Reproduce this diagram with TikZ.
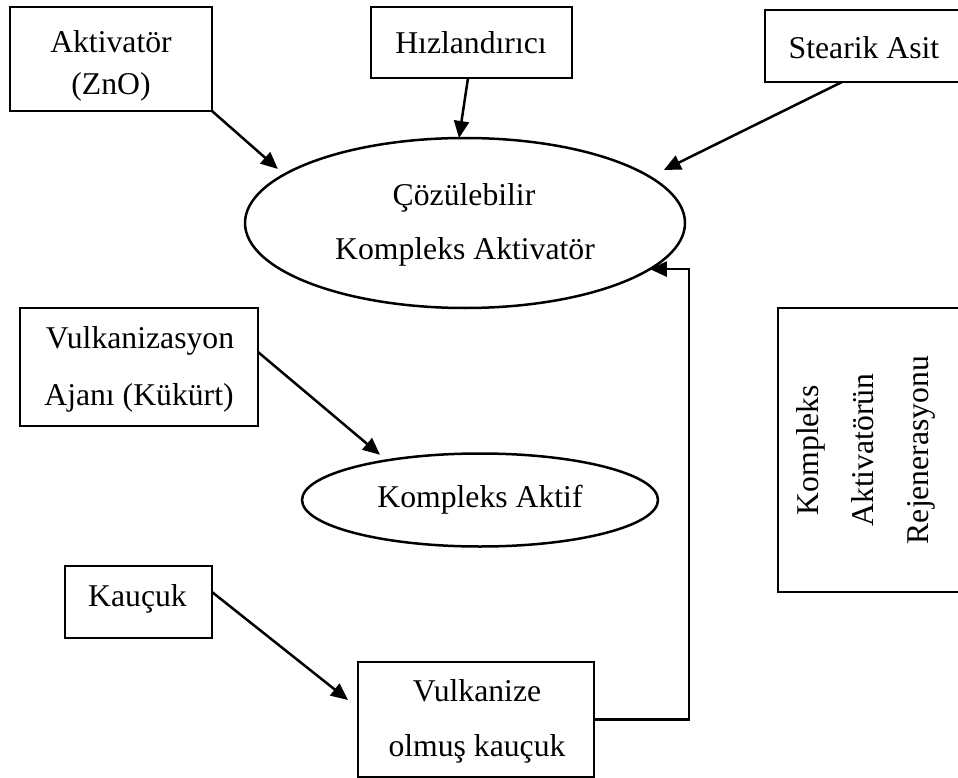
\documentclass[tikz,border=0pt]{standalone}
\usepackage{fontspec}
\setmainfont{Liberation Serif}
\usetikzlibrary{shapes.geometric,arrows.meta}
\begin{document}
\begin{tikzpicture}[x=1pt,y=-1pt,
  box/.style={draw, line width=2.5pt, rectangle, inner sep=0pt, outer sep=0pt},
  oval/.style={draw, line width=2.5pt, ellipse, inner sep=0pt, outer sep=0pt},
  txt/.style={anchor=base, inner sep=0pt, font=\fontsize{31.7}{38}\selectfont},
  arr/.style={line width=2.5pt, -{Triangle[length=17pt,width=15pt]}}]
\useasboundingbox (0,0) rectangle (958,778);
\clip (0,0) rectangle (958,778);
% boxes and ovals
\node (akt) [box, minimum width=202pt, minimum height=104pt] at (111,59) {};
\node (hiz) [box, minimum width=201pt, minimum height=71pt] at (471.5,42.5) {};
\node (ste) [box, minimum width=198pt, minimum height=72pt] at (864,46) {};
\node (cka) [oval, minimum width=440pt, minimum height=170pt] at (465,223) {};
\node (vul) [box, minimum width=238pt, minimum height=118pt] at (139,367) {};
\node (ka)  [oval, minimum width=356pt, minimum height=93pt] at (480,500) {};
\node (reg) [box, minimum width=190pt, minimum height=284pt] at (873,450) {};
\node (kau) [box, minimum width=147pt, minimum height=72pt] at (138.5,602) {};
\node (vk)  [box, minimum width=236pt, minimum height=115pt] at (476,719.5) {};
% texts
\node (t1) [txt] at (111,53) {Aktivatör};
\node (t2) [txt] at (111,94.5) {(ZnO)};
\node (t3) [txt] at (471,53.3) {Hızlandırıcı};
\node (t4) [txt] at (864,58.3) {Stearik Asit};
\node (t5) [txt] at (464,205) {Çözülebilir};
\node (t6) [txt] at (465,259.3) {Kompleks Aktivatör};
\node (t7) [txt] at (140,348.3) {Vulkanizasyon};
\node (t8) [txt] at (139,405) {Ajanı (Kükürt)};
\node (t9) [txt] at (480,507.3) {Kompleks Aktif};
\node (t10) [txt, rotate=90] at (818,450) {Kompleks};
\node (t11) [txt, rotate=90] at (873,450) {Aktivatörün};
\node (t12) [txt, rotate=90] at (928,450) {Rejenerasyonu};
\node (t13) [txt] at (137.5,606.7) {Kauçuk};
\node (t14) [txt] at (477,701.7) {Vulkanize};
\node (t15) [txt] at (477,756.7) {olmuş kauçuk};
% connectors
\draw[arr, shorten >=8.5pt] (akt.south east) -- (cka.165.5);
\draw[arr] ([xshift=-3.5pt]hiz.south) -- ([xshift=-6pt]cka.north);
\draw[arr, shorten >=15.6pt] ([xshift=-22pt]ste.south) -- (cka.14.3);
\draw[arr, shorten >=8.8pt] ([yshift=15pt]vul.east) -- (ka.157.2);
\draw[arr] ([yshift=10pt]kau.east) -- ([xshift=-10pt,yshift=19.5pt]vk.west);
\draw[arr] (vk.east) -- ++(95,0) |- (cka.-14.4);
\end{tikzpicture}
\end{document}
